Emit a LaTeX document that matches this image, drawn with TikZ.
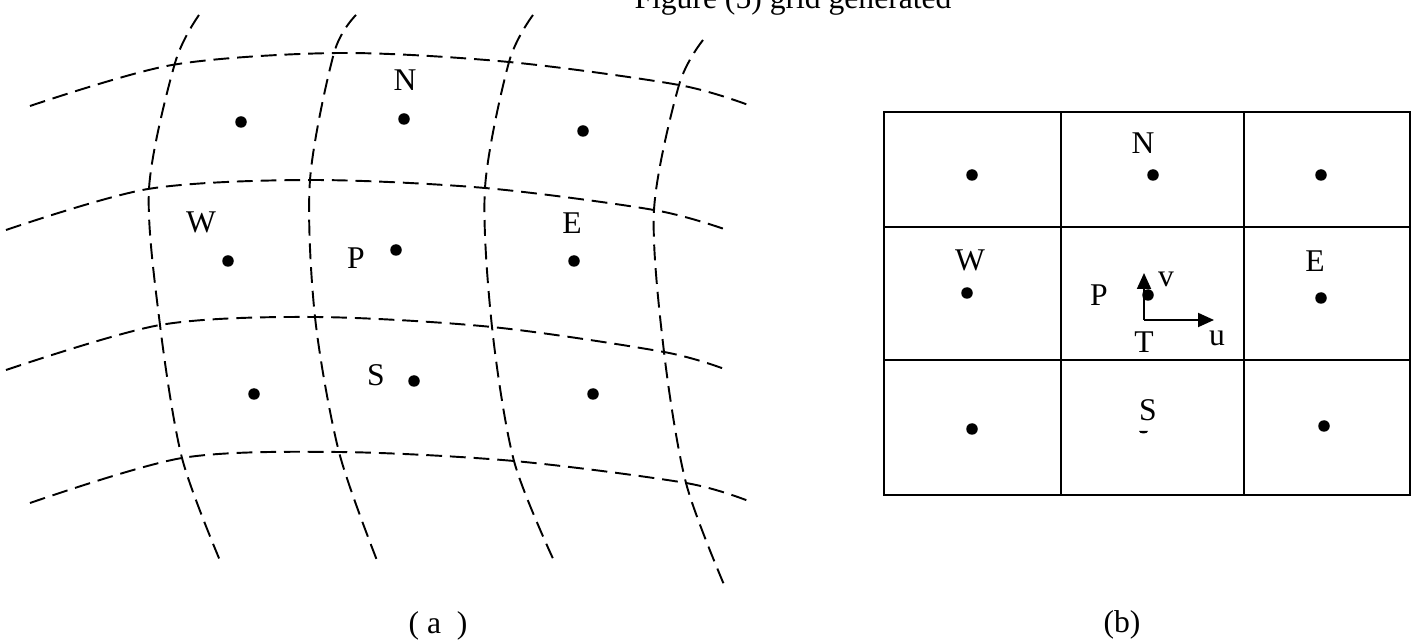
\documentclass[tikz,border=0pt]{standalone}
\usepackage{fontspec}
\setmainfont{Liberation Serif}
\usetikzlibrary{arrows.meta}
\tikzset{
  curve/.style ={line width=1.1pt,dash pattern=on 9pt off 4.5pt},
  cell/.style  ={line width=1.2pt},
  dot/.style   ={circle,fill,inner sep=0pt,minimum size=2.3mm},
  lbl/.style   ={inner sep=0pt,font=\fontsize{18}{21}\selectfont},
  arr/.style   ={-{Triangle[length=3.2mm,width=2.8mm]},line width=1.1pt},
}
\begin{document}
\begin{tikzpicture}[x=0.02cm,y=-0.02cm]
  \useasboundingbox (0,0) rectangle (1412,644);
  \node[lbl,anchor=base] (title) at (793,9) {Figure (5) grid generated};

  % (a) curved grid
  \draw[curve] plot[smooth] coordinates {(30,106) (172,65) (339,53) (509,62) (679,85) (751,106)};
  \draw[curve] plot[smooth] coordinates {(6,230) (148,189) (310,180) (485,188) (654,210) (727,230)};
  \draw[curve] plot[smooth] coordinates {(6,370) (160,325) (315,317) (492,327) (664,352) (727,370)};
  \draw[curve] plot[smooth] coordinates {(30,503) (182,458) (339,452) (514,461) (686,483) (751,502)};
  \draw[curve] plot[smooth] coordinates {(199,15) (175,63) (149,189) (160,325) (182,458) (221,563)};
  \draw[curve] plot[smooth] coordinates {(356,15) (334,53) (310,180) (315,317) (339,452) (378,563)};
  \draw[curve] plot[smooth] coordinates {(533,15) (509,62) (485,188) (492,327) (514,461) (555,563)};
  \draw[curve] plot[smooth] coordinates {(703,40) (679,85) (654,210) (664,352) (686,483) (725,587)};

  \node[dot] (anw) at (241,122) {};
  \node[dot] (an)  at (404,119) {};
  \node[dot] (ane) at (583,131) {};
  \node[dot] (aw)  at (228,261) {};
  \node[dot] (ap)  at (396,250) {};
  \node[dot] (ae)  at (574,261) {};
  \node[dot] (asw) at (254,394) {};
  \node[dot] (as)  at (414,381) {};
  \node[dot] (ase) at (593,394) {};

  \node[lbl] (anl) at (405,80)  {N};
  \node[lbl] (awl) at (201,222) {W};
  \node[lbl] (apl) at (356,258) {P};
  \node[lbl] (ael) at (572,223) {E};
  \node[lbl] (asl) at (376,375) {S};
  \node[lbl] (acap) at (438,626) {( a\ \ )};

  % (b) cartesian grid
  \draw[cell] (884,112) rectangle (1410,495);
  \draw[cell] (1061,112) -- (1061,495);
  \draw[cell] (1244,112) -- (1244,495);
  \draw[cell] (884,227) -- (1410,227);
  \draw[cell] (884,360) -- (1410,360);

  \node[dot] (bnw) at (972,175)  {};
  \node[dot] (bn)  at (1153,175) {};
  \node[dot] (bne) at (1321,175) {};
  \node[dot] (bw)  at (967,293)  {};
  \node[dot] (bp)  at (1148,295) {};
  \node[dot] (be)  at (1321,298) {};
  \node[dot] (bsw) at (972,429)  {};
  \node[dot] (bse) at (1324,426) {};
  \fill (1148,431) arc[start angle=0,end angle=180,x radius=4.5,y radius=2.5];

  \coordinate (bt) at (1144,320);
  \coordinate (bv) at (1144,273);
  \coordinate (bu) at (1214,320);
  \draw[arr] (bt) -- (bv);
  \draw[arr] (bt) -- (bu);

  \node[lbl] (bnl) at (1143,143) {N};
  \node[lbl] (bwl) at (970,260)  {W};
  \node[lbl] (bel) at (1315,261) {E};
  \node[lbl] (bpl) at (1099,295) {P};
  \node[lbl] (bvl) at (1166,279) {v};
  \node[lbl] (bul) at (1217,338) {u};
  \node[lbl] (btl) at (1144,342) {T};
  \node[lbl] (bsl) at (1148,410) {S};
  \node[lbl] (bcap) at (1122,625) {(b)};
\end{tikzpicture}
\end{document}
